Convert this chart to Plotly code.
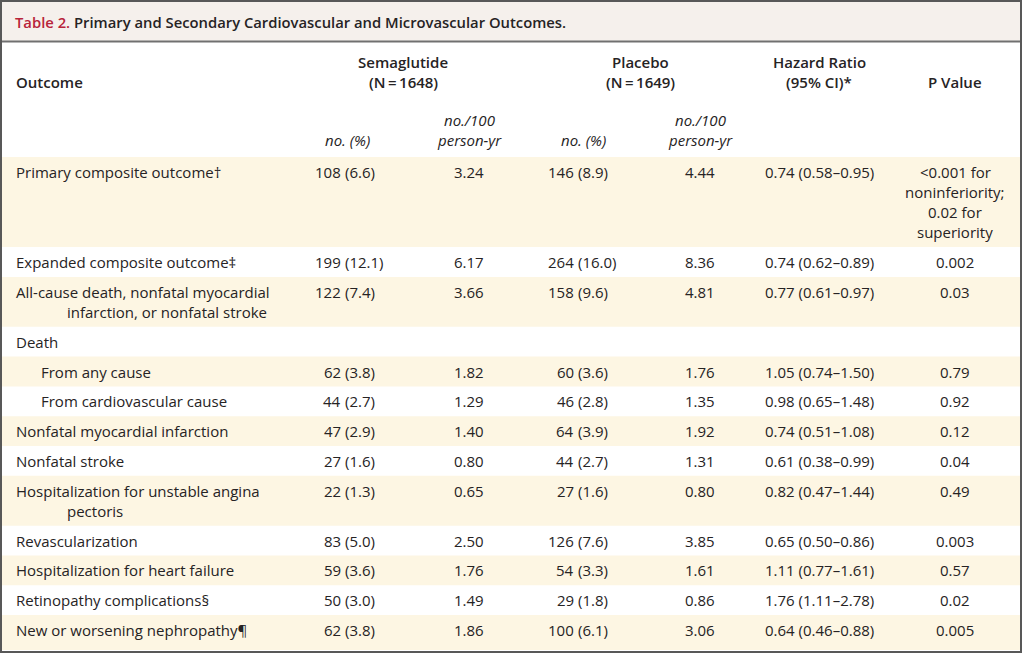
import plotly.graph_objects as go

# ---------------- data ----------------
title_label = "Table 2."
title_text = "Primary and Secondary Cardiovascular and Microvascular Outcomes."

group_headers = ["Semaglutide\n(N\u2009=\u20091648)", "Placebo\n(N\u2009=\u20091649)"]
hr_header = "Hazard Ratio\n(95% CI)*"
p_header = "P Value"
outcome_header = "Outcome"
sub_headers = ["no. (%)", "no./100\nperson-yr"]

outcomes = [
    "Primary composite outcome†",
    "Expanded composite outcome‡",
    "All-cause death, nonfatal myocardial\ninfarction, or nonfatal stroke",
    "Death",
    "From any cause",
    "From cardiovascular cause",
    "Nonfatal myocardial infarction",
    "Nonfatal stroke",
    "Hospitalization for unstable angina\npectoris",
    "Revascularization",
    "Hospitalization for heart failure",
    "Retinopathy complications§",
    "New or worsening nephropathy¶",
]
indent_level = [0, 0, 0, 0, 1, 1, 0, 0, 0, 0, 0, 0, 0]

sema_count = ["108", "199", "122", "", "62", "44", "47", "27", "22", "83", "59", "50", "62"]
sema_pct = ["(6.6)", "(12.1)", "(7.4)", "", "(3.8)", "(2.7)", "(2.9)", "(1.6)", "(1.3)", "(5.0)", "(3.6)", "(3.0)", "(3.8)"]
sema_rate = ["3.24", "6.17", "3.66", "", "1.82", "1.29", "1.40", "0.80", "0.65", "2.50", "1.76", "1.49", "1.86"]

plac_count = ["146", "264", "158", "", "60", "46", "64", "44", "27", "126", "54", "29", "100"]
plac_pct = ["(8.9)", "(16.0)", "(9.6)", "", "(3.6)", "(2.8)", "(3.9)", "(2.7)", "(1.6)", "(7.6)", "(3.3)", "(1.8)", "(6.1)"]
plac_rate = ["4.44", "8.36", "4.81", "", "1.76", "1.35", "1.92", "1.31", "0.80", "3.85", "1.61", "0.86", "3.06"]

hazard_ratio = ["0.74 (0.58–0.95)", "0.74 (0.62–0.89)", "0.77 (0.61–0.97)", "",
                "1.05 (0.74–1.50)", "0.98 (0.65–1.48)", "0.74 (0.51–1.08)", "0.61 (0.38–0.99)",
                "0.82 (0.47–1.44)", "0.65 (0.50–0.86)", "1.11 (0.77–1.61)", "1.76 (1.11–2.78)",
                "0.64 (0.46–0.88)"]
p_value = ["&lt;0.001 for\nnoninferiority;\n0.02 for\nsuperiority", "0.002", "0.03", "",
           "0.79", "0.92", "0.12", "0.04", "0.49", "0.003", "0.57", "0.02", "0.005"]

# ---------------- layout / style ----------------
W, H = 1024, 655
FONT = "Open Sans"
FS = 15
TEXT = "#262324"
RED = "#b8243a"
SHADE = "#fdf6e3"
TITLE_BG = "#f5f0ec"
BORDER = "#585858"

X_OUT = 14
X_CONT = 65
X_SUB = 39
X_SEMA_PAREN = 344
X_SEMA_RATE = 469
X_PLAC_PAREN = 577
X_PLAC_RATE = 700
X_HR = 819
X_P = 955
X_SEMA_HDR = 403
X_PLAC_HDR = 640

BODY_TOP = 157
LINE = 20.1
PAD = 9.7

fig = go.Figure()
fig.add_trace(go.Scatter(x=[0, W], y=[0, H], mode="markers", marker=dict(opacity=0),
                         hoverinfo="skip", showlegend=False))

shapes = []
ann = []


def text(x, y, s, anchor="center", bold=False, italic=False, color=TEXT, size=FS):
    if italic:
        s = "<i>" + s + "</i>"
    ann.append(dict(x=x, y=y, xref="x", yref="y", text=s, showarrow=False,
                    xanchor=anchor, yanchor="middle",
                    font=dict(family=FONT, size=size, color=color,
                              weight=600 if bold else 400)))


def multiline(x, y0, s, anchor="center", bold=False, italic=False, step=LINE):
    for i, ln in enumerate(s.split("\n")):
        text(x, y0 + i * step, ln, anchor, bold, italic)


# title bar
shapes.append(dict(type="rect", xref="x", yref="y", x0=2, x1=1020, y0=2, y1=41,
                   fillcolor=TITLE_BG, line=dict(width=0), layer="below"))
shapes.append(dict(type="line", xref="x", yref="y", x0=1, x1=1021, y0=41.5, y1=41.5,
                   line=dict(color="#707070", width=2)))
ann.append(dict(x=13, y=22, xref="x", yref="y", showarrow=False, xanchor="left", yanchor="middle",
                text="<span style='color:%s'>%s</span> %s" % (RED, title_label, title_text),
                font=dict(family=FONT, size=14.8, color=TEXT, weight=600)))

# header
text(X_OUT, 82, outcome_header, "left", bold=True)
for xc, h in zip([X_SEMA_HDR, X_PLAC_HDR], group_headers):
    multiline(xc, 62, h, bold=True)
multiline(X_HR, 62, hr_header, bold=True)
text(X_P, 82, p_header, bold=True)
for xn, xr in [(X_SEMA_PAREN + 3, X_SEMA_RATE), (X_PLAC_PAREN + 6, X_PLAC_RATE)]:
    text(xn, 140, sub_headers[0], italic=True)
    multiline(xr, 120, sub_headers[1], italic=True)

# body rows
y = BODY_TOP
n = len(outcomes)
for i in range(n):
    cells = [outcomes[i], p_value[i]]
    nlines = max(c.count("\n") + 1 for c in cells)
    h = PAD + LINE * nlines
    h_fill = (650 - y) if i == n - 1 else h
    if i % 2 == 0:
        shapes.append(dict(type="rect", xref="x", yref="y", x0=2, x1=1020, y0=y, y1=y + h_fill,
                           fillcolor=SHADE, line=dict(width=0), layer="below"))
    yc = y + PAD / 2 + LINE / 2
    lines = outcomes[i].split("\n")
    x0 = X_OUT if indent_level[i] == 0 else X_SUB
    text(x0, yc, lines[0], "left")
    for k, ln in enumerate(lines[1:], start=1):
        text(X_CONT, yc + k * LINE, ln, "left")
    if sema_count[i]:
        text(X_SEMA_PAREN - 1, yc, sema_count[i], "right")
        text(X_SEMA_PAREN - 1, yc, sema_pct[i], "left")
        text(X_SEMA_RATE, yc, sema_rate[i])
        text(X_PLAC_PAREN - 1, yc, plac_count[i], "right")
        text(X_PLAC_PAREN - 1, yc, plac_pct[i], "left")
        text(X_PLAC_RATE, yc, plac_rate[i])
        text(X_HR, yc, hazard_ratio[i])
        multiline(X_P, yc, p_value[i])
    y += h

# outer border
shapes.append(dict(type="rect", xref="x", yref="y", x0=1, x1=1021, y0=1, y1=652,
                   line=dict(color=BORDER, width=2), fillcolor="rgba(0,0,0,0)"))

fig.update_layout(
    width=W, height=H, margin=dict(l=0, r=0, t=0, b=0),
    paper_bgcolor="white", plot_bgcolor="white",
    xaxis=dict(range=[0, W], visible=False, fixedrange=True),
    yaxis=dict(range=[H, 0], visible=False, fixedrange=True),
    shapes=shapes, annotations=ann, showlegend=False,
)
fig.write_html("out.html", config={"displayModeBar": False},
               post_script="document.body.style.margin='0';")
